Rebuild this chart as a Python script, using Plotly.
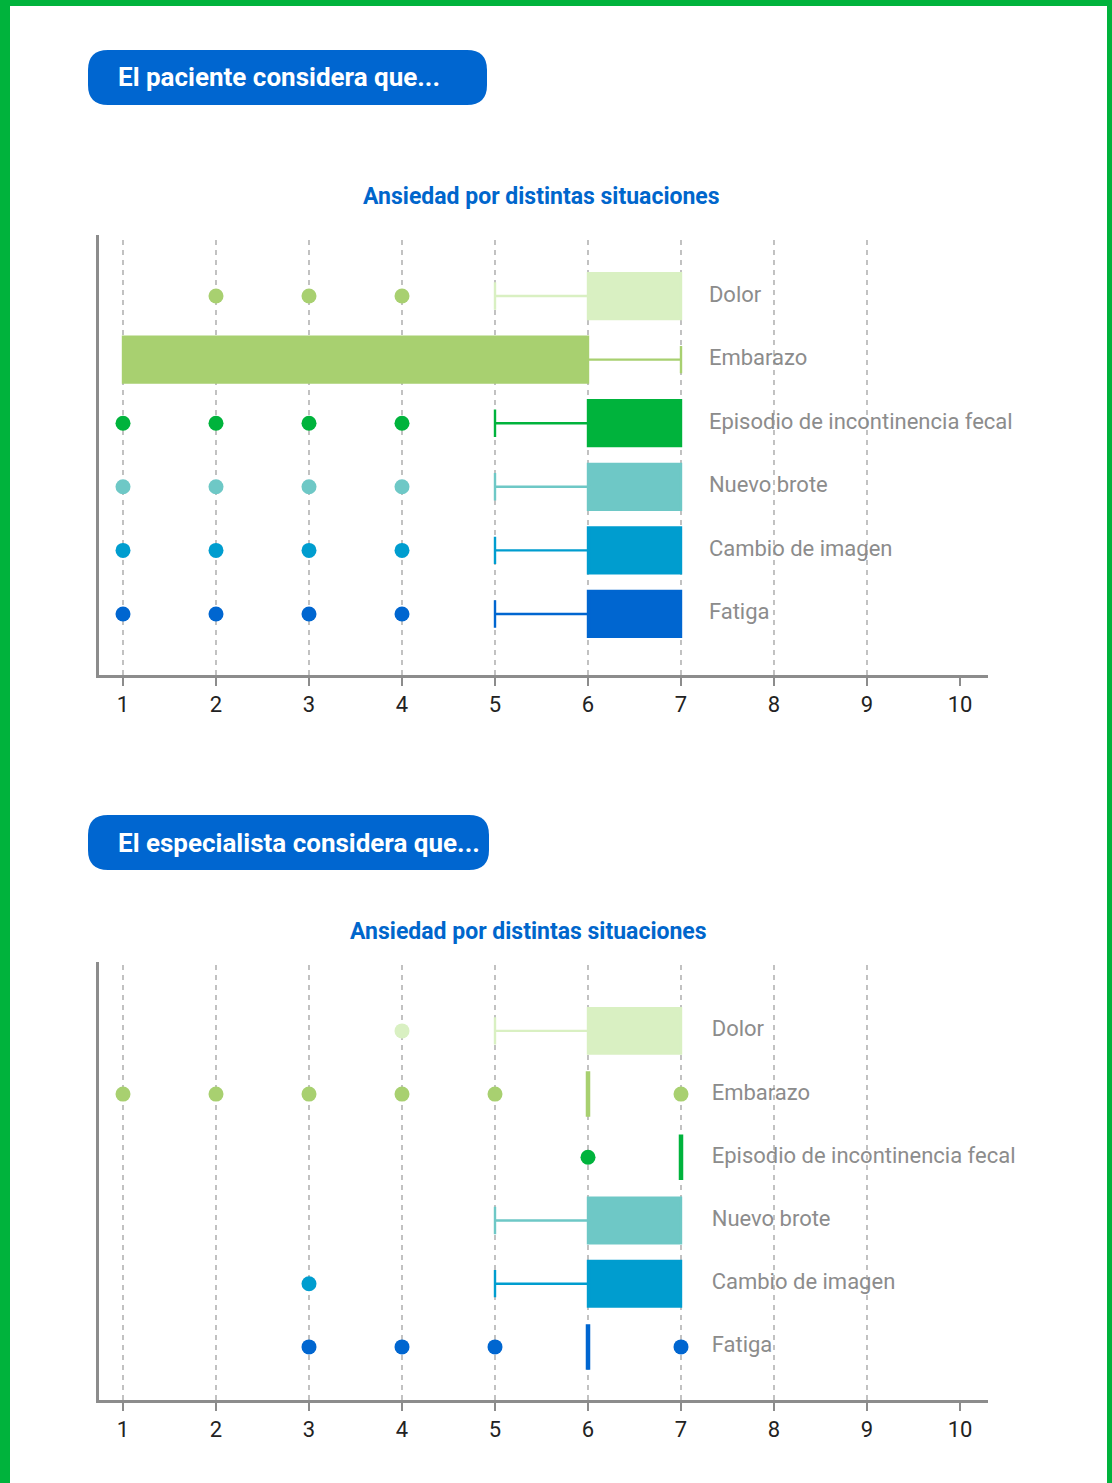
import plotly.graph_objects as go

# ---------------- data ----------------
categories = ["Dolor", "Embarazo", "Episodio de incontinencia fecal",
              "Nuevo brote", "Cambio de imagen", "Fatiga"]

# Patient panel
p_lower = [5, 1, 5, 5, 5, 5]
p_q1 = [6, 1, 6, 6, 6, 6]
p_median = [6, 6, 6, 6, 6, 6]
p_q3 = [7, 6, 7, 7, 7, 7]
p_upper = [7, 7, 7, 7, 7, 7]
p_outliers = [[2, 3, 4], [], [1, 2, 3, 4], [1, 2, 3, 4], [1, 2, 3, 4], [1, 2, 3, 4]]

# Specialist panel
s_lower = [5, 6, 7, 5, 5, 6]
s_q1 = [6, 6, 7, 6, 6, 6]
s_median = [6, 6, 7, 6, 6, 6]
s_q3 = [7, 6, 7, 7, 7, 6]
s_upper = [7, 6, 7, 7, 7, 6]
s_outliers = [[4], [1, 2, 3, 4, 5, 7], [6], [], [3], [3, 4, 5, 7]]

x_ticks = [1, 2, 3, 4, 5, 6, 7, 8, 9, 10]
grid_values = [1, 2, 3, 4, 5, 6, 7, 8, 9]

header_texts = ["El paciente considera que...", "El especialista considera que..."]
chart_title = "Ansiedad por distintas situaciones"

# ---------------- style ----------------
box_colors = ["#d9f0c2", "#a8d070", "#00b33c", "#6ec8c6", "#009dcf", "#0066d0"]
p_outlier_colors = ["#a8d070", "#a8d070", "#00b33c", "#6ec8c6", "#009dcf", "#0066d0"]
s_outlier_colors = ["#d9f0c2", "#a8d070", "#00b33c", "#6ec8c6", "#009dcf", "#0066d0"]
BLUE = "#0066d0"
GRAY = "#8c8c8c"
GREEN = "#00b33c"
FONT = "Roboto, Arial, sans-serif"
W, H = 1112, 1483


def px(x):
    return x / W


def py(y):
    return 1 - y / H


fig = go.Figure()

panels = [
    dict(xa="x", ya="y", lower=p_lower, q1=p_q1, med=p_median, q3=p_q3, up=p_upper,
         out=p_outliers, ocol=p_outlier_colors, label_x=7.30),
    dict(xa="x2", ya="y2", lower=s_lower, q1=s_q1, med=s_median, q3=s_q3, up=s_upper,
         out=s_outliers, ocol=s_outlier_colors, label_x=7.33),
]

for pn in panels:
    for i, cat in enumerate(categories):
        degenerate = pn["q1"][i] == pn["q3"][i]
        fig.add_trace(go.Box(
            y=[cat], q1=[pn["q1"][i]], median=[pn["med"][i]], q3=[pn["q3"][i]],
            lowerfence=[pn["lower"][i]], upperfence=[pn["up"][i]],
            orientation="h", fillcolor=box_colors[i],
            line=dict(color=box_colors[i], width=4.5 if degenerate else 2.4),
            whiskerwidth=0.6, width=0.72, boxpoints=False,
            showlegend=False, hoverinfo="skip",
            xaxis=pn["xa"], yaxis=pn["ya"],
        ))
        if pn["out"][i]:
            fig.add_trace(go.Scatter(
                x=pn["out"][i], y=[cat] * len(pn["out"][i]), mode="markers",
                marker=dict(color=pn["ocol"][i], size=15),
                showlegend=False, hoverinfo="skip",
                xaxis=pn["xa"], yaxis=pn["ya"],
            ))
    fig.add_trace(go.Scatter(
        x=[pn["label_x"]] * len(categories), y=categories, mode="text",
        text=categories, textposition="middle right", cliponaxis=False,
        textfont=dict(family=FONT, size=22, color=GRAY),
        showlegend=False, hoverinfo="skip",
        xaxis=pn["xa"], yaxis=pn["ya"],
    ))
    for g in grid_values:
        fig.add_shape(type="line", x0=g, x1=g, y0=0, y1=1,
                      xref=pn["xa"], yref=pn["ya"] + " domain",
                      line=dict(color="#999999", width=1.2, dash="5px,5px"),
                      layer="below")

x_range = [1 - 24 / 93, 1 + 865 / 93]
xaxis_style = dict(range=x_range, tickvals=x_ticks, ticks="outside", ticklen=8,
                   tickwidth=2, tickcolor=GRAY, showline=True, linecolor=GRAY,
                   linewidth=3, showgrid=False, zeroline=False, ticklabelstandoff=0,
                   tickfont=dict(family=FONT, size=22, color="#222222"),
                   domain=[px(99), px(988)], fixedrange=True)
yaxis_style = dict(type="category", categoryorder="array", categoryarray=categories,
                   showticklabels=False, ticks="", showline=True, linecolor=GRAY,
                   linewidth=3, showgrid=False, zeroline=False, fixedrange=True)

fig.update_layout(
    width=W, height=H, margin=dict(l=0, r=0, t=0, b=0),
    paper_bgcolor="white", plot_bgcolor="white", boxmode="overlay",
    xaxis=dict(**xaxis_style, anchor="y"),
    yaxis=dict(**yaxis_style, anchor="x", domain=[py(675), py(235)], range=[5.96, -0.96]),
    xaxis2=dict(**xaxis_style, anchor="y2"),
    yaxis2=dict(**yaxis_style, anchor="x2", domain=[py(1400), py(962)], range=[5.84, -1.09]),
)

# green page border
for (x0, y0, x1, y1) in [(0, 0, 10, H), (0, 0, W, 6), (1107, 0, W, H)]:
    fig.add_shape(type="rect", xref="paper", yref="paper",
                  x0=px(x0), x1=px(x1), y0=py(y1), y1=py(y0),
                  fillcolor=GREEN, line=dict(width=0), layer="above")


def pill(x0, y0, x1, y1, r):
    pts = [
        f"M {px(x0 + r)},{py(y0)}",
        f"L {px(x1 - r)},{py(y0)}",
        f"Q {px(x1)},{py(y0)} {px(x1)},{py(y0 + r)}",
        f"L {px(x1)},{py(y1 - r)}",
        f"Q {px(x1)},{py(y1)} {px(x1 - r)},{py(y1)}",
        f"L {px(x0 + r)},{py(y1)}",
        f"Q {px(x0)},{py(y1)} {px(x0)},{py(y1 - r)}",
        f"L {px(x0)},{py(y0 + r)}",
        f"Q {px(x0)},{py(y0)} {px(x0 + r)},{py(y0)}",
        "Z",
    ]
    return " ".join(pts)


for (x0, y0, x1, y1), txt in zip([(88, 50, 487, 105), (88, 815, 489, 870)], header_texts):
    fig.add_shape(type="path", xref="paper", yref="paper", path=pill(x0, y0, x1, y1, 20),
                  fillcolor=BLUE, line=dict(width=0))
    fig.add_annotation(xref="paper", yref="paper", x=px(116), y=py((y0 + y1) / 2),
                       xanchor="left", yanchor="middle", showarrow=False, text=f"<b>{txt}</b>",
                       font=dict(family=FONT, size=26, color="white"))

for cx, cy in [(541, 196), (528, 931)]:
    fig.add_annotation(xref="paper", yref="paper", x=px(cx), y=py(cy),
                       xanchor="center", yanchor="middle", showarrow=False,
                       text=f"<b>{chart_title}</b>",
                       font=dict(family=FONT, size=23, color="#0066cc"))

fig.write_html("out.html", config={"displayModeBar": False},
               post_script="document.body.style.margin='0';")
